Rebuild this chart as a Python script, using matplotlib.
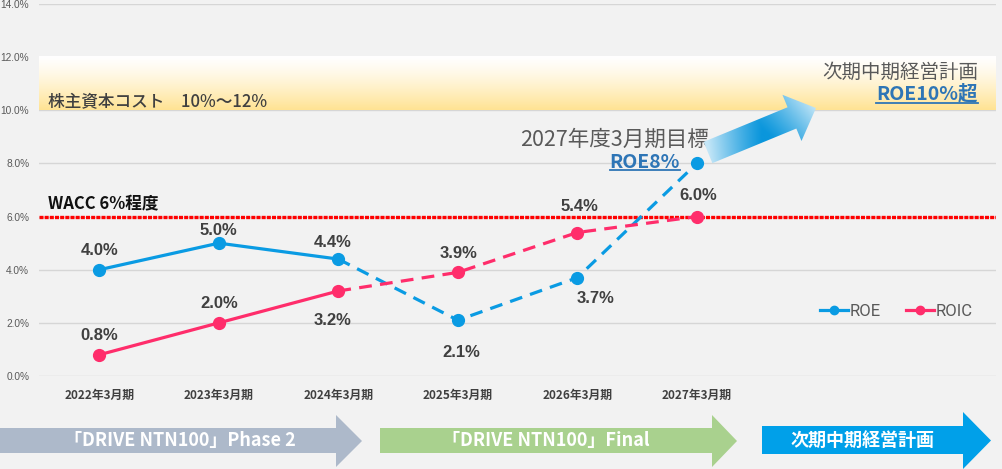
import numpy as np
import matplotlib
matplotlib.use("Agg")
import matplotlib.pyplot as plt
from matplotlib.patches import Polygon
from matplotlib.colors import to_rgb

plt.rcParams['font.family'] = ['Liberation Sans', 'Noto Sans CJK JP', 'DejaVu Sans']

# data
years = ["2022年3月期", "2023年3月期", "2024年3月期", "2025年3月期", "2026年3月期", "2027年3月期"]
roe = [4.0, 5.0, 4.4, 2.1, 3.7, 8.0]
roic = [0.8, 2.0, 3.2, 3.9, 5.4, 6.0]
n_actual = 3          # first three years are actuals (solid), rest are plan (dashed)
wacc = 6.0
cost_band = (10.0, 12.0)
yticks = [0, 2, 4, 6, 8, 10, 12, 14]
phases = ["「DRIVE NTN100」Phase 2", "「DRIVE NTN100」Final", "次期中期経営計画"]

# label offsets in pixels (dx, dy) - which side of the marker the value sits
roe_off = [(0, 19), (0, 13), (-6, 17), (3, -32), (18, -21), None]
roic_off = [(0, 19), (0, 19), (-6, -30), (1, 19), (2, 26), (1, 21)]

BG = "#F2F2F2"
C_ROE = "#0A9BE3"
C_ROIC = "#FF2D6B"
TXT = "#404040"
CJK = ['Noto Sans CJK JP', 'DejaVu Sans']

W, H = 1002, 469
fig = plt.figure(figsize=(W / 100, H / 100), dpi=100, facecolor=BG)

# main axes in pixel layout
L, R, T, B = 39, 996, 4, 376
ax = fig.add_axes([L / W, (H - B) / H, (R - L) / W, (B - T) / H])
ax.set_facecolor(BG)
x = np.arange(len(years))
ax.set_xlim(-0.505, 7.504)
ax.set_ylim(0, 14)
for s in ax.spines.values():
    s.set_visible(False)
ax.set_yticks(yticks)
ax.set_yticklabels([f"{v:.1f}%" for v in yticks], fontsize=7.3, color="#595959")
ax.set_xticks(x)
ax.set_xticklabels(years, fontsize=8.5, fontweight="bold", color=TXT, family=CJK)
ax.tick_params(length=0)
ax.tick_params(axis="y", pad=7)
ax.tick_params(axis="x", pad=9)
ax.grid(axis="y", color="#D6D6D6", lw=1)
ax.set_axisbelow(True)

# shareholder cost band, gradient white -> yellow
grad = np.linspace(0, 1, 100) ** 1.3
top = np.array(to_rgb("#FFFFFF"))
bot = np.array(to_rgb("#FFE393"))
img = (top[None, :] * (1 - grad[:, None]) + bot[None, :] * grad[:, None])[:, None, :]
ax.imshow(img, extent=(-0.505, 7.504, cost_band[0], cost_band[1]), origin="upper",
          aspect="auto", zorder=1)
ax.set_xlim(-0.505, 7.504)
ax.set_ylim(0, 14)

# WACC line
ax.axhline(wacc, color="#FF0000", lw=2.4, ls=(0, (1.2, 0.35)), zorder=2, dash_capstyle="butt")

# series
for vals, col, name in [(roe, C_ROE, "ROE"), (roic, C_ROIC, "ROIC")]:
    ax.plot(x[:n_actual], vals[:n_actual], color=col, lw=2.3, zorder=4, solid_capstyle="round")
    ax.plot(x[n_actual - 1:], vals[n_actual - 1:], color=col, lw=2.3, zorder=4,
            dashes=(4, 2.6))
    ax.plot(x, vals, ls="none", marker="o", ms=8.5, color=col, zorder=5)

# legend proxies
h1, = ax.plot([], [], color=C_ROE, lw=2.3, marker="o", ms=6)
h2, = ax.plot([], [], color=C_ROIC, lw=2.3, marker="o", ms=6)
fig.legend([h1, h2], ["ROE", "ROIC"], loc="center right",
           bbox_to_anchor=(981 / W, (H - 311) / H), ncol=2, frameon=False,
           prop={"family": "Roboto", "size": 12}, labelcolor="#595959",
           handlelength=1.7, handletextpad=0.1, columnspacing=1.5, borderpad=0)

# value labels
for vals, offs in [(roe, roe_off), (roic, roic_off)]:
    for xi, v, o in zip(x, vals, offs):
        if o is None:
            continue
        ax.annotate(f"{v:.1f}%", (xi, v), xytext=o, textcoords="offset pixels",
                    ha="center", va="center", fontsize=12, fontweight="bold",
                    color=TXT, zorder=6)

# overlay in pixel coords for annotations and arrows
ov = fig.add_axes([0, 0, 1, 1], facecolor="none")
ov.set_xlim(0, W)
ov.set_ylim(H, 0)
ov.axis("off")

ov.text(48, 102, "株主資本コスト　10%～12%", fontsize=12, color=TXT, family=CJK,
        fontweight="medium", va="center", ha="left")
ov.text(48, 203, "WACC 6%程度", fontsize=12, color="#111111", family=CJK,
        fontweight="bold", va="center", ha="left")
ov.text(709, 140, "2027年度3月期目標", fontsize=15.5, color="#595959", family=CJK,
        va="center", ha="right")
ov.text(978, 72, "次期中期経営計画", fontsize=14, color="#595959", family=CJK,
        va="center", ha="right")
u1 = ov.text(680, 162, "ROE8%", fontsize=14, color="#2E75B6", family=CJK,
             fontweight="bold", va="center", ha="right")
u2 = ov.text(978, 94, "ROE10%超", fontsize=14, color="#2E75B6", family=CJK,
             fontweight="bold", va="center", ha="right")

# gradient arrow toward next plan
tail = np.array([708.0, 152.5])
tip = np.array([816.0, 108.0])
u = (tip - tail) / np.linalg.norm(tip - tail)
nrm = np.array([-u[1], u[0]]) * -1
Ln = np.linalg.norm(tip - tail)
hl, bw, hw = 26, 11.5, 25
pts = [(0, -bw), (Ln - hl, -bw), (Ln - hl, -hw), (Ln, 0), (Ln - hl, hw), (Ln - hl, bw), (0, bw)]
poly_xy = np.array([tail + s * u + w * nrm for s, w in pts])
poly = Polygon(poly_xy, closed=True, facecolor="none", edgecolor="none")
ov.add_patch(poly)
x0, y0 = poly_xy.min(axis=0) - 2
x1, y1 = poly_xy.max(axis=0) + 2
gx, gy = np.meshgrid(np.linspace(x0, x1, 200), np.linspace(y0, y1, 200))
t = ((gx - tail[0]) * u[0] + (gy - tail[1]) * u[1]) / Ln
w = ((gx - tail[0]) * nrm[0] + (gy - tail[1]) * nrm[1]) / hw
k = np.clip(np.abs(t - 0.5) * 2, 0, 1) ** 1.2
k = np.clip(k + 0.15 * w, 0, 1)
dark = np.array(to_rgb("#0A96DC"))
light = np.array(to_rgb("#C4E6F7"))
gimg = dark[None, None, :] * (1 - k[..., None]) + light[None, None, :] * k[..., None]
im = ov.imshow(gimg, extent=(x0, x1, y1, y0), origin="upper", aspect="auto", zorder=3)
im.set_clip_path(poly)
ov.set_xlim(0, W)
ov.set_ylim(H, 0)

# phase arrows along the bottom
arrow_specs = [(0, 336, 362, 428, 453, 415, 467, "#ADB9CA"),
               (380, 712, 737, 428, 453, 415, 467, "#A9D18E"),
               (762, 963, 991, 426, 454, 412, 469, "#00A0E9")]
for (xs, xh, xt, bt, bb, ht, hb, col), label in zip(arrow_specs, phases):
    ym = (bt + bb) / 2
    shape = [(xs, bt), (xh, bt), (xh, ht), (xt, ym + 0.5), (xh, hb), (xh, bb), (xs, bb)]
    ov.add_patch(Polygon(shape, closed=True, facecolor=col, edgecolor="none"))
    cx = (xs + xh) / 2 + (12 if xs == 0 else 0)
    ov.text(cx, ym, label, color="white", fontsize=13, fontweight="bold",
            family=CJK, ha="center", va="center")

# underline the blue targets
fig.canvas.draw()
rend = fig.canvas.get_renderer()
for t_ in (u1, u2):
    bb_ = t_.get_window_extent(rend)
    yline = bb_.y0 + 1
    ov.plot([bb_.x0, bb_.x1], [H - yline, H - yline], color="#2E75B6", lw=1.3)

fig.savefig("out.png", dpi=100, facecolor=BG)
